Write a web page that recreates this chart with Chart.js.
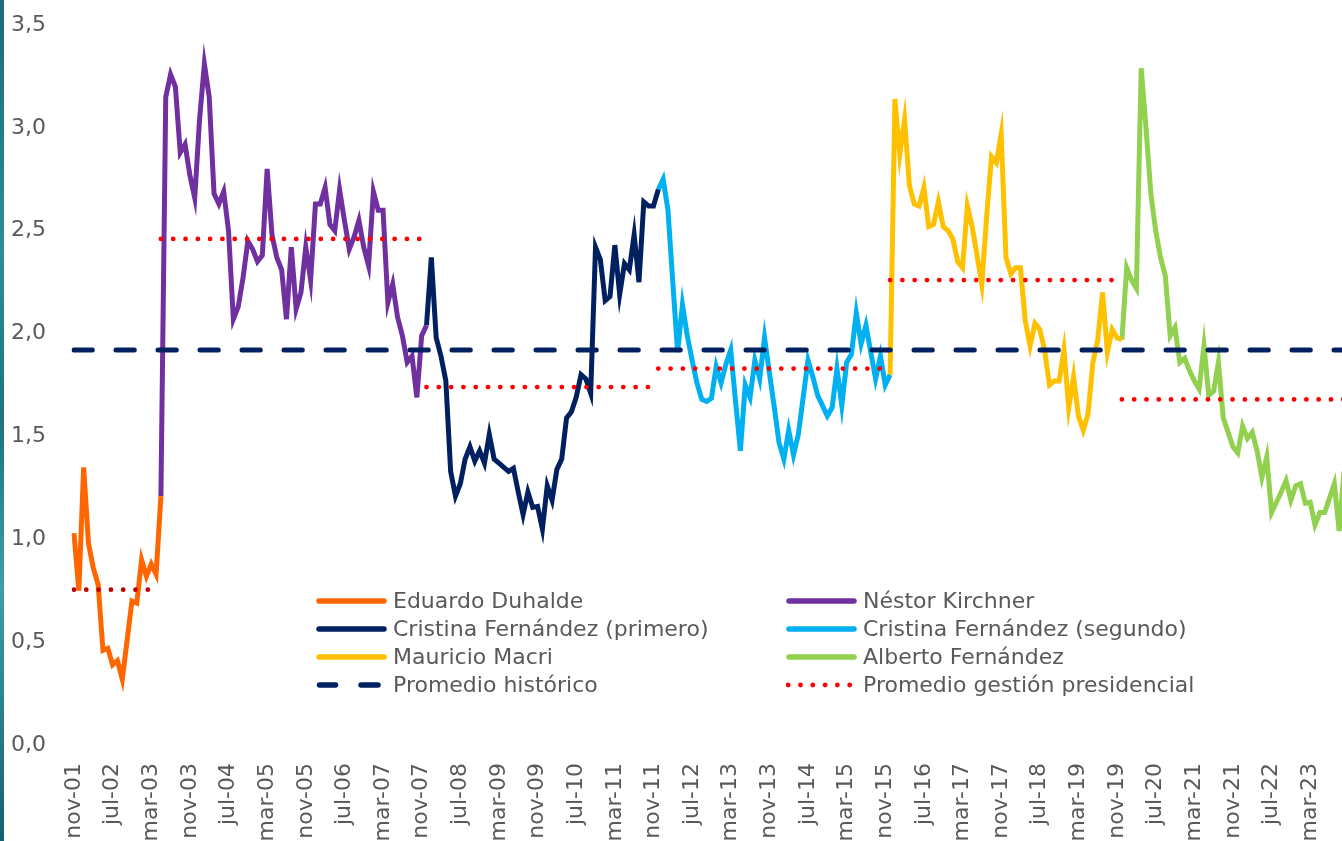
<!DOCTYPE html>
<html>
<head>
<meta charset="utf-8">
<script src="https://cdn.jsdelivr.net/npm/chart.js@4.4.1/dist/chart.umd.min.js"></script>
<style>
  html, body { margin: 0; padding: 0; background: #fff; }
  #wrap { position: relative; width: 1342px; height: 841px; overflow: hidden; }
  #chart { display: block; }
  #strip { position: absolute; left: 0; top: 0; width: 4px; height: 841px;
           background: linear-gradient(#1c6b7a, #2f8c9b 30%, #1f7282 50%, #3e9eac 70%, #175f6e); }
  .leg { position: absolute; height: 28px; line-height: 28px; display: flex; align-items: center;
         font-family: 'DejaVu Sans', sans-serif; font-size: 22px; color: #595959; white-space: nowrap; }
  .leg svg { flex: none; margin-right: 6px; overflow: visible; }
</style>
</head>
<body>
<div id="wrap">
  <canvas id="chart" width="1344" height="841"></canvas>
  <div id="strip"></div>
  <div id="legend"></div>
</div>
<script>
// meses: nov-01 .. oct-23
const MONTHS = ['ene', 'feb', 'mar', 'abr', 'may', 'jun', 'jul', 'ago', 'sep', 'oct', 'nov', 'dic'];
const FIRST_MONTH = 10, FIRST_YEAR = 2001, N_MONTHS = 264, TICK_STEP = 8;

// series por gestion (valor mensual), cada una empieza en su indice de mes
const duhalde = [1.03, 0.75, 1.35, 0.98, 0.86, 0.78, 0.46, 0.47, 0.39, 0.41, 0.32, 0.51, 0.70, 0.69, 0.90, 0.82, 0.88, 0.83, 1.21];
const kirchner = [1.21, 3.15, 3.26, 3.20, 2.88, 2.92, 2.77, 2.66, 3.04, 3.31,
                  3.15, 2.68, 2.63, 2.69, 2.50, 2.07, 2.13, 2.27, 2.45, 2.41,
                  2.35, 2.38, 2.80, 2.48, 2.37, 2.31, 2.07, 2.42, 2.12, 2.20,
                  2.42, 2.26, 2.63, 2.63, 2.71, 2.53, 2.50, 2.70, 2.55, 2.41,
                  2.47, 2.55, 2.42, 2.33, 2.69, 2.60, 2.60, 2.15, 2.24, 2.08,
                  1.99, 1.86, 1.89, 1.69, 1.99, 2.04];
const cfk1 = [2.04, 2.37, 1.98, 1.89, 1.77, 1.33, 1.21, 1.27, 1.39, 1.45,
              1.38, 1.43, 1.37, 1.51, 1.39, 1.37, 1.35, 1.33, 1.345, 1.23,
              1.12, 1.23, 1.155, 1.16, 1.05, 1.26, 1.19, 1.34, 1.39, 1.59,
              1.62, 1.69, 1.80, 1.78, 1.71, 2.42, 2.36, 2.16, 2.18, 2.43,
              2.19, 2.34, 2.31, 2.48, 2.25, 2.64, 2.62, 2.62, 2.70];
const cfk2 = [2.70, 2.75, 2.60, 2.25, 1.91, 2.14, 1.99, 1.87, 1.76, 1.68,
              1.67, 1.685, 1.84, 1.76, 1.85, 1.92, 1.67, 1.43, 1.75, 1.69,
              1.87, 1.78, 1.98, 1.81, 1.645, 1.47, 1.39, 1.53, 1.41, 1.51,
              1.69, 1.87, 1.79, 1.70, 1.65, 1.60, 1.64, 1.83, 1.65, 1.86,
              1.90, 2.10, 1.95, 2.04, 1.91, 1.78, 1.89, 1.75, 1.80];
const macri = [1.80, 3.14, 2.87, 3.04, 2.72, 2.63, 2.62, 2.71, 2.52, 2.53,
               2.64, 2.52, 2.50, 2.46, 2.35, 2.32, 2.62, 2.52, 2.38, 2.24,
               2.57, 2.86, 2.83, 2.97, 2.37, 2.29, 2.32, 2.32, 2.06, 1.94,
               2.05, 2.02, 1.92, 1.75, 1.77, 1.77, 1.92, 1.64, 1.79, 1.60,
               1.53, 1.61, 1.86, 1.97, 2.20, 1.91, 2.02, 1.98, 1.97];
const fernandez = [1.97, 2.32, 2.26, 2.22, 3.29, 3.00, 2.68, 2.50, 2.37, 2.28,
                   1.99, 2.03, 1.86, 1.88, 1.82, 1.77, 1.73, 1.94, 1.70, 1.72,
                   1.86, 1.59, 1.52, 1.45, 1.42, 1.55, 1.49, 1.52, 1.43, 1.30,
                   1.40, 1.13, 1.18, 1.23, 1.285, 1.19, 1.26, 1.27, 1.175, 1.18,
                   1.07, 1.13, 1.13, 1.20, 1.27, 1.04, 1.33];

const presidents = ['Eduardo Duhalde', 'Néstor Kirchner', 'Cristina Fernández (primero)',
                    'Cristina Fernández (segundo)', 'Mauricio Macri', 'Alberto Fernández'];
const seriesValues = [duhalde, kirchner, cfk1, cfk2, macri, fernandez];
const seriesStart = [0, 18, 73, 121, 169, 217];
const seriesColors = ['#FF6600', '#7030A0', '#002060', '#00B0F0', '#FFC000', '#92D050'];

// promedios
const PROMEDIO_HISTORICO = 1.92;
const avgGestion = [0.755, 2.46, 1.74, 1.83, 2.26, 1.68];
const avgStart = [0, 18, 73, 121, 169, 217];
const avgEnd = [16, 72, 120, 168, 216, 263];
const avgColors = ['#C00000', '#FF0000', '#FF0000', '#FF0000', '#FF0000', '#FF0000'];

var months = [];
for (var i = 0; i < N_MONTHS; i++) {
    var m = (FIRST_MONTH + i) % 12,
        y = FIRST_YEAR + Math.floor((FIRST_MONTH + i) / 12);
    months.push(MONTHS[m] + '-' + String(y % 100).padStart(2, '0'));
}

pad = (values, start) => {
    var out = new Array(N_MONTHS).fill(null);
    values.forEach((v, k) => { out[start + k] = v; });
    return out;
}

flat = (value, start, end) => {
    var out = new Array(N_MONTHS).fill(null);
    for (var k = start; k <= end; k++) out[k] = value;
    return out;
}

var datasets = [];

datasets.push({
    label: 'Promedio histórico',
    data: flat(PROMEDIO_HISTORICO, 0, N_MONTHS - 1),
    borderColor: '#002060',
    borderWidth: 5,
    borderDash: [18.3, 23.7],
    borderCapStyle: 'round',
    pointRadius: 0,
    order: 0
});

avgGestion.forEach((v, k) => {
    datasets.push({
        label: 'Promedio gestión presidencial',
        data: flat(v, avgStart[k], avgEnd[k]),
        borderColor: avgColors[k],
        borderWidth: 4.8,
        borderDash: [0, 12.3],
        borderCapStyle: 'round',
        pointRadius: 0,
        order: 0
    });
});

seriesValues.forEach((vals, k) => {
    datasets.push({
        label: presidents[k],
        data: pad(vals, seriesStart[k]),
        borderColor: seriesColors[k],
        borderWidth: 5,
        pointRadius: 0,
        tension: 0,
        spanGaps: false,
        order: 1
    });
});

const TICK_FONT = { family: 'DejaVu Sans', size: 22 };

new Chart(document.getElementById('chart'), {
    type: 'line',
    data: { labels: months, datasets: datasets },
    options: {
        responsive: false,
        animation: false,
        layout: { padding: { top: 25, right: 0, bottom: 0, left: 0 } },
        plugins: { legend: { display: false }, tooltip: { enabled: false } },
        scales: {
            x: {
                type: 'category',
                offset: false,
                grid: { display: false, drawTicks: false },
                border: { display: false },
                ticks: {
                    autoSkip: false,
                    minRotation: 90,
                    maxRotation: 90,
                    padding: 18,
                    color: '#595959',
                    font: TICK_FONT,
                    callback: function(value, index) {
                        return index % TICK_STEP === 0 ? this.getLabelForValue(value) : '';
                    }
                },
                afterFit: (s) => { s.height = 96; s.paddingLeft = 0; s.paddingRight = 0; }
            },
            y: {
                min: 0,
                max: 3.5,
                grid: { display: false, drawTicks: false },
                border: { display: false },
                ticks: {
                    stepSize: 0.5,
                    padding: 28,
                    color: '#595959',
                    font: TICK_FONT,
                    callback: (v) => v.toFixed(1).replace('.', ',')
                },
                afterFit: (s) => { s.width = 74; s.paddingTop = 0; s.paddingBottom = 0; }
            }
        }
    }
});

// leyenda en dos columnas
var legendItems = [
    { label: presidents[0], color: seriesColors[0], kind: 'solid' },
    { label: presidents[1], color: seriesColors[1], kind: 'solid' },
    { label: presidents[2], color: seriesColors[2], kind: 'solid' },
    { label: presidents[3], color: seriesColors[3], kind: 'solid' },
    { label: presidents[4], color: seriesColors[4], kind: 'solid' },
    { label: presidents[5], color: seriesColors[5], kind: 'solid' },
    { label: 'Promedio histórico', color: '#002060', kind: 'dash' },
    { label: 'Promedio gestión presidencial', color: '#FF0000', kind: 'dot' }
];

swatch = (item) => {
    var s = '<svg width="71" height="28">';
    if (item.kind === 'solid') {
        s += '<line x1="3" y1="14" x2="68" y2="14" stroke="' + item.color + '" stroke-width="5.5" stroke-linecap="round"/>';
    } else if (item.kind === 'dash') {
        s += '<line x1="3.5" y1="14" x2="19.5" y2="14" stroke="' + item.color + '" stroke-width="5.5" stroke-linecap="round"/>';
        s += '<line x1="45" y1="14" x2="62" y2="14" stroke="' + item.color + '" stroke-width="5.5" stroke-linecap="round"/>';
    } else {
        for (var k = 0; k < 6; k++)
            s += '<circle cx="' + (2.2 + 12.3 * k) + '" cy="14" r="2.4" fill="' + item.color + '"/>';
    }
    return s + '</svg>';
}

var legendEl = document.getElementById('legend');
legendItems.forEach((item, k) => {
    var div = document.createElement('div');
    div.className = 'leg';
    div.style.left = (k % 2 === 0 ? 316 : 786) + 'px';
    div.style.top = (587 + 28 * Math.floor(k / 2)) + 'px';
    div.innerHTML = swatch(item) + '<span>' + item.label + '</span>';
    legendEl.appendChild(div);
});
</script>
</body>
</html>
